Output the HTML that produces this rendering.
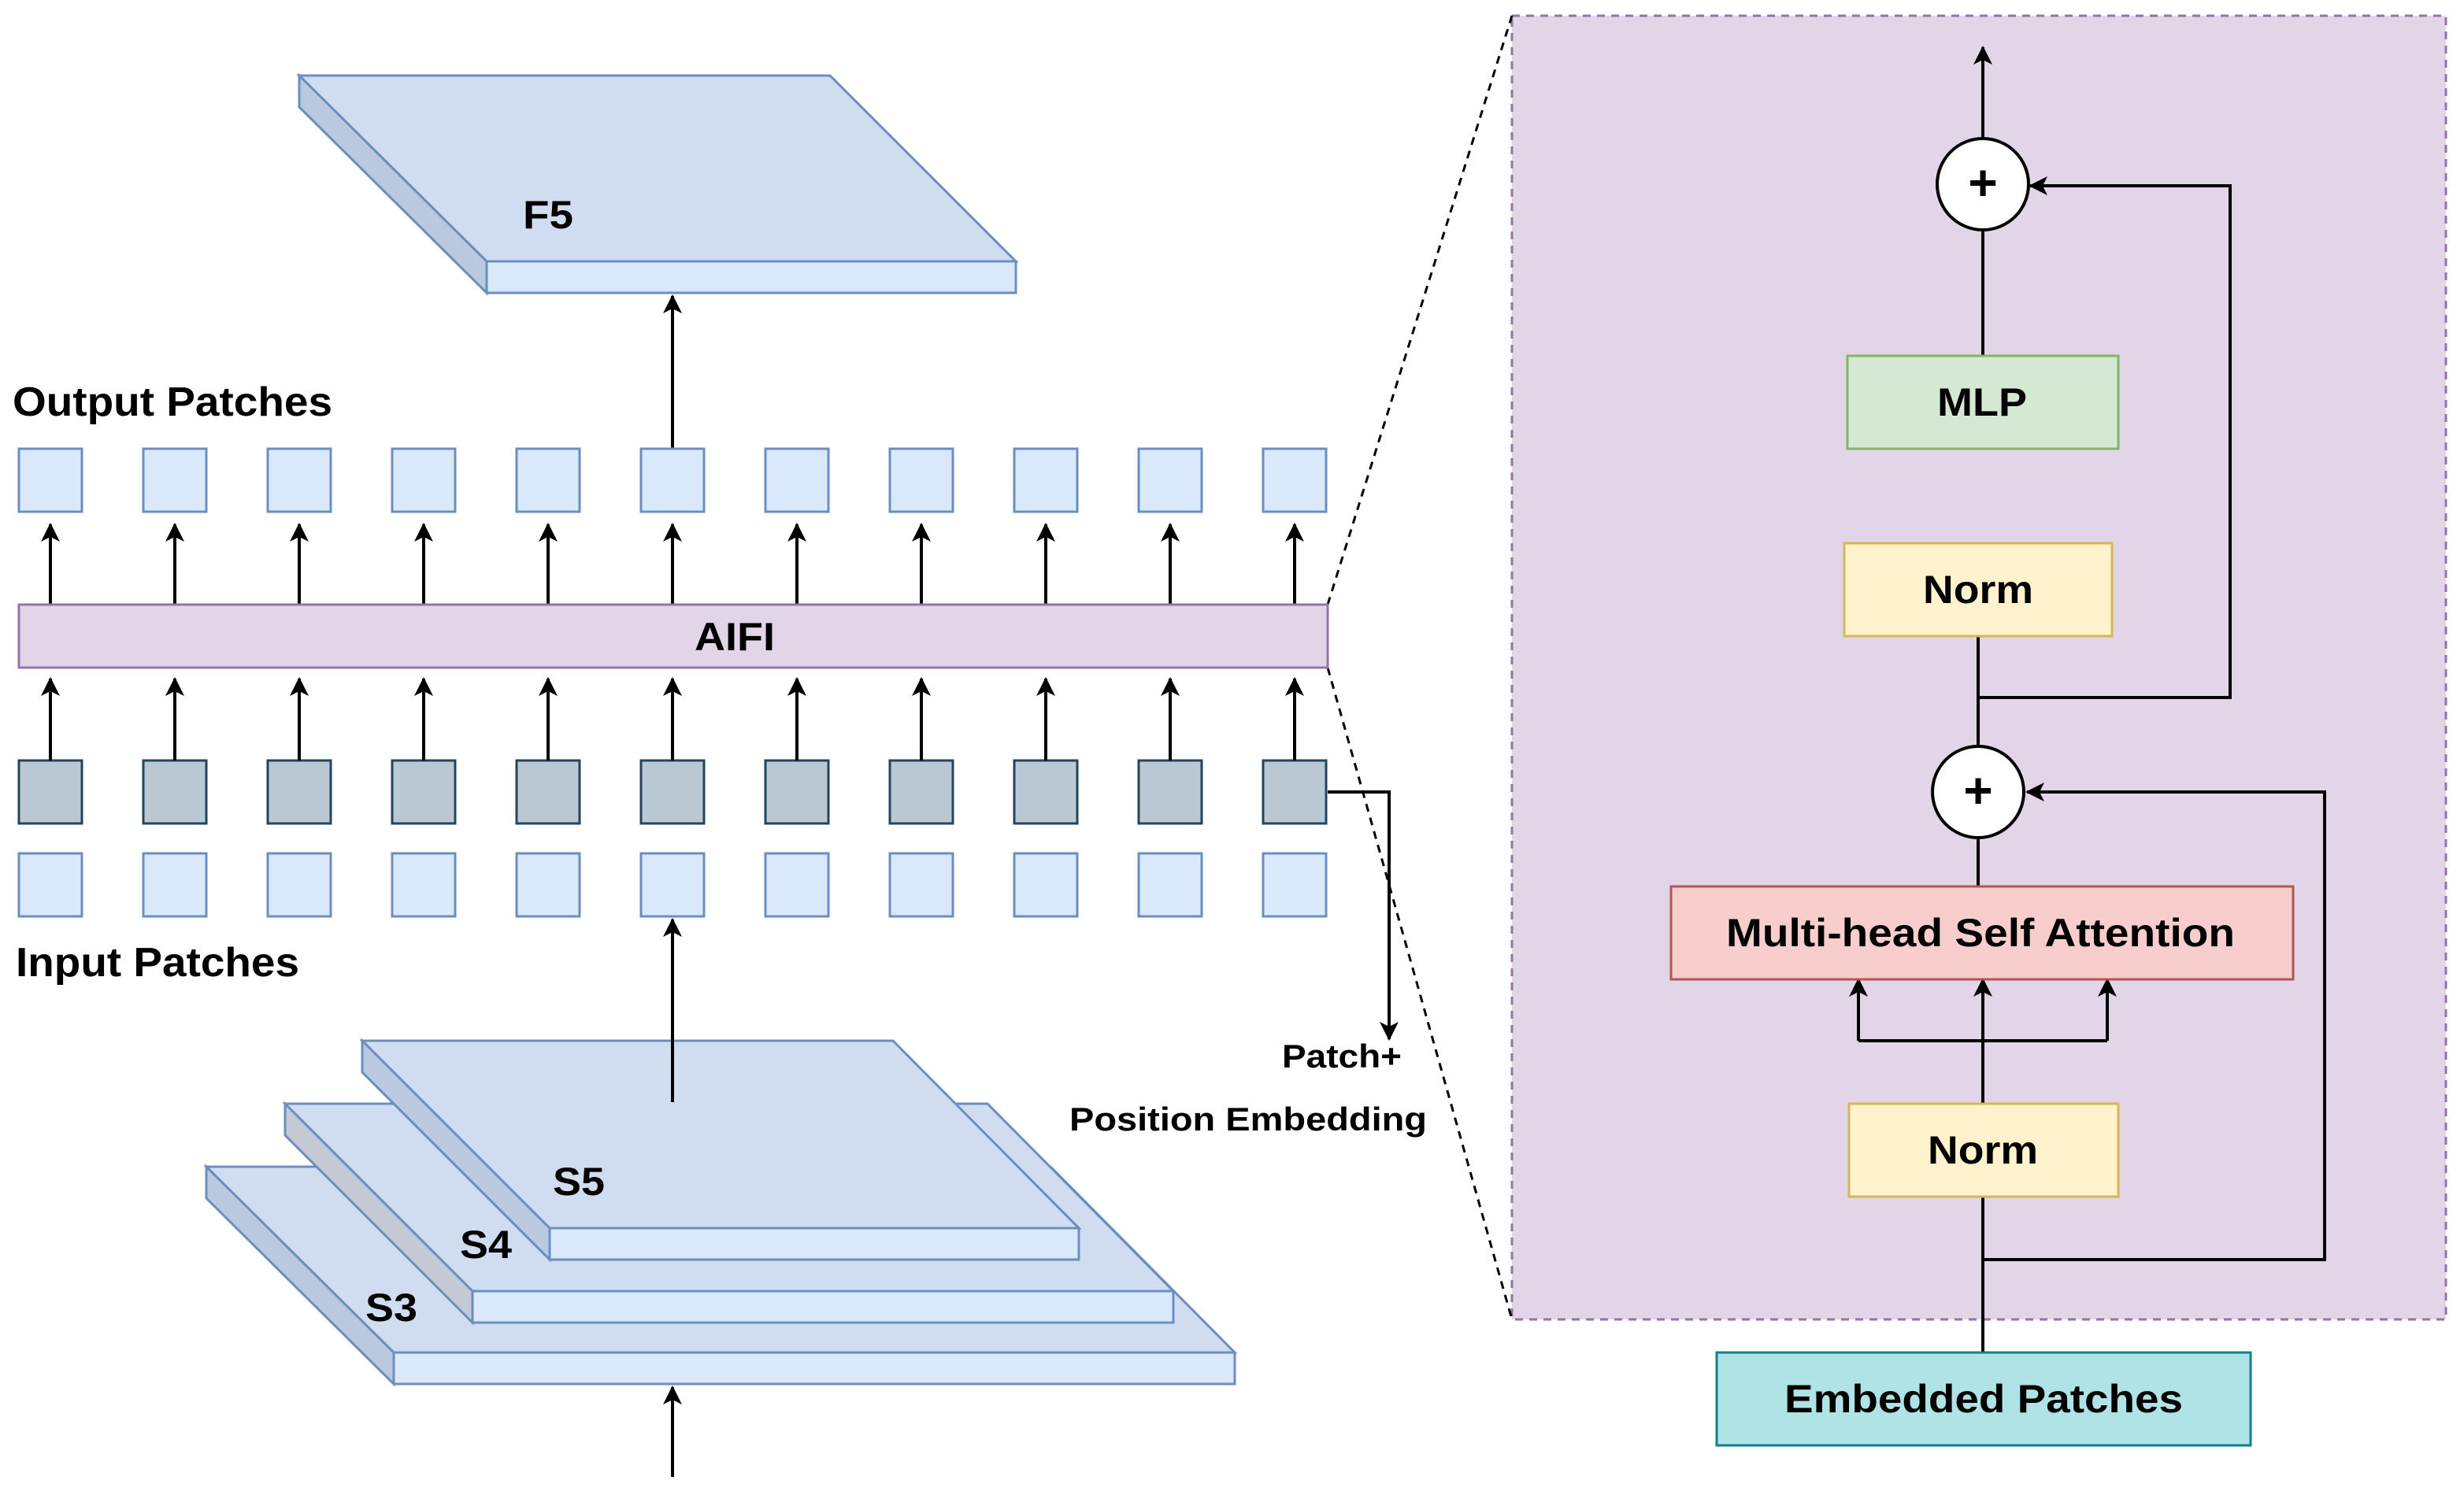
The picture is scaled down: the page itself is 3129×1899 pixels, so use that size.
<!DOCTYPE html>
<html><head><meta charset="utf-8"><style>
html,body{margin:0;padding:0;background:#fff;}
svg{display:block;}
text{font-family:"Liberation Sans",Arial,sans-serif;font-weight:bold;fill:#000;}
</style></head><body>
<svg width="3129" height="1899" viewBox="0 0 1564.5 949.5" xmlns="http://www.w3.org/2000/svg">
<defs>
<marker id="ah" markerWidth="14" markerHeight="14" refX="11" refY="6" orient="auto" markerUnits="userSpaceOnUse">
<path d="M0,0 L12,6 L0,12 L3,6 Z" fill="#000"/>
</marker>
</defs>
<rect width="1564.5" height="949.5" fill="#fff"/>

<rect x="960" y="10" width="593" height="828" fill="#e1d5e7" stroke="#9673a6" stroke-width="1.5" stroke-dasharray="5,4"/>
<line x1="843" y1="384" x2="960" y2="10" stroke="#000" stroke-width="1.5" stroke-dasharray="5,4"/>
<line x1="843" y1="424" x2="960" y2="838" stroke="#000" stroke-width="1.5" stroke-dasharray="5,4"/>

<g stroke="#6c8ebf" stroke-width="1.5">
<polygon points="190,48 527,48 645,166 309,166" fill="#d0ddf0"/>
<polygon points="190,48 309,166 309,186 190,68" fill="#b9c9e0"/>
<rect x="309" y="166" width="336" height="20" fill="#dae8fc"/>
</g>
<text x="332" y="145" font-size="25" textLength="32" lengthAdjust="spacingAndGlyphs">F5</text>
<line x1="427" y1="285" x2="427" y2="188" stroke="#000" stroke-width="2" marker-end="url(#ah)"/>

<text x="8" y="264" font-size="26" textLength="203" lengthAdjust="spacingAndGlyphs">Output Patches</text>
<text x="10" y="620" font-size="26" textLength="180" lengthAdjust="spacingAndGlyphs">Input Patches</text>

<g stroke-width="1.5">
<g fill="#dae8fc" stroke="#6c8ebf">
<rect x="12" y="285" width="40" height="40"/><rect x="91" y="285" width="40" height="40"/><rect x="170" y="285" width="40" height="40"/><rect x="249" y="285" width="40" height="40"/><rect x="328" y="285" width="40" height="40"/><rect x="407" y="285" width="40" height="40"/><rect x="486" y="285" width="40" height="40"/><rect x="565" y="285" width="40" height="40"/><rect x="644" y="285" width="40" height="40"/><rect x="723" y="285" width="40" height="40"/><rect x="802" y="285" width="40" height="40"/>
<rect x="12" y="542" width="40" height="40"/><rect x="91" y="542" width="40" height="40"/><rect x="170" y="542" width="40" height="40"/><rect x="249" y="542" width="40" height="40"/><rect x="328" y="542" width="40" height="40"/><rect x="407" y="542" width="40" height="40"/><rect x="486" y="542" width="40" height="40"/><rect x="565" y="542" width="40" height="40"/><rect x="644" y="542" width="40" height="40"/><rect x="723" y="542" width="40" height="40"/><rect x="802" y="542" width="40" height="40"/>
</g>
<g fill="#bac8d3" stroke="#23445d">
<rect x="12" y="483" width="40" height="40"/><rect x="91" y="483" width="40" height="40"/><rect x="170" y="483" width="40" height="40"/><rect x="249" y="483" width="40" height="40"/><rect x="328" y="483" width="40" height="40"/><rect x="407" y="483" width="40" height="40"/><rect x="486" y="483" width="40" height="40"/><rect x="565" y="483" width="40" height="40"/><rect x="644" y="483" width="40" height="40"/><rect x="723" y="483" width="40" height="40"/><rect x="802" y="483" width="40" height="40"/>
</g>
</g>
<g stroke="#000" stroke-width="2" marker-end="url(#ah)">
<line x1="32" y1="384" x2="32" y2="333"/><line x1="111" y1="384" x2="111" y2="333"/><line x1="190" y1="384" x2="190" y2="333"/><line x1="269" y1="384" x2="269" y2="333"/><line x1="348" y1="384" x2="348" y2="333"/><line x1="427" y1="384" x2="427" y2="333"/><line x1="506" y1="384" x2="506" y2="333"/><line x1="585" y1="384" x2="585" y2="333"/><line x1="664" y1="384" x2="664" y2="333"/><line x1="743" y1="384" x2="743" y2="333"/><line x1="822" y1="384" x2="822" y2="333"/>
<line x1="32" y1="483" x2="32" y2="431"/><line x1="111" y1="483" x2="111" y2="431"/><line x1="190" y1="483" x2="190" y2="431"/><line x1="269" y1="483" x2="269" y2="431"/><line x1="348" y1="483" x2="348" y2="431"/><line x1="427" y1="483" x2="427" y2="431"/><line x1="506" y1="483" x2="506" y2="431"/><line x1="585" y1="483" x2="585" y2="431"/><line x1="664" y1="483" x2="664" y2="431"/><line x1="743" y1="483" x2="743" y2="431"/><line x1="822" y1="483" x2="822" y2="431"/>
</g>

<rect x="12" y="384" width="831" height="40" fill="#e1d5e7" stroke="#9673a6" stroke-width="1.5"/>
<text x="441" y="413" font-size="25" textLength="51" lengthAdjust="spacingAndGlyphs">AIFI</text>

<polyline points="843,503 882,503 882,660" fill="none" stroke="#000" stroke-width="2" marker-end="url(#ah)"/>
<text x="814" y="678" font-size="21" textLength="76" lengthAdjust="spacingAndGlyphs">Patch+</text>
<text x="679" y="718" font-size="21" textLength="227" lengthAdjust="spacingAndGlyphs">Position Embedding</text>

<g stroke="#6c8ebf" stroke-width="1.5">
<polygon points="131,741 667,741 784,859 250,859" fill="#d0ddf0"/>
<polygon points="131,741 250,859 250,879 131,761" fill="#b9c9e0"/>
<rect x="250" y="859" width="534" height="20" fill="#dae8fc"/>
<polygon points="181,701 627,701 745,820 300,820" fill="#d0ddf0"/>
<polygon points="181,701 300,820 300,840 181,721" fill="#c4cad4"/>
<rect x="300" y="820" width="445" height="20" fill="#dae8fc"/>
<polygon points="230,661 567,661 685,780 349,780" fill="#d0ddf0"/>
<polygon points="230,661 349,780 349,800 230,681" fill="#b9c9e0"/>
<rect x="349" y="780" width="336" height="20" fill="#dae8fc"/>
</g>
<text x="351" y="759" font-size="25" textLength="33" lengthAdjust="spacingAndGlyphs">S5</text>
<text x="292" y="799" font-size="25" textLength="33" lengthAdjust="spacingAndGlyphs">S4</text>
<text x="232" y="839" font-size="25" textLength="33" lengthAdjust="spacingAndGlyphs">S3</text>
<line x1="427" y1="700" x2="427" y2="584" stroke="#000" stroke-width="2" marker-end="url(#ah)"/>
<line x1="427" y1="938" x2="427" y2="881" stroke="#000" stroke-width="2" marker-end="url(#ah)"/>

<g stroke="#000" stroke-width="2" fill="none">
<line x1="1259" y1="859" x2="1259" y2="760"/>
<polyline points="1259,800 1476,800 1476,503 1287,503" marker-end="url(#ah)"/>
<line x1="1259" y1="701" x2="1259" y2="622" marker-end="url(#ah)"/>
<polyline points="1180,661 1338,661"/>
<line x1="1180" y1="661" x2="1180" y2="622" marker-end="url(#ah)"/>
<line x1="1338" y1="661" x2="1338" y2="622" marker-end="url(#ah)"/>
<line x1="1256" y1="563" x2="1256" y2="532"/>
<line x1="1256" y1="474" x2="1256" y2="404"/>
<polyline points="1256,443 1416,443 1416,118 1289,118" marker-end="url(#ah)"/>
<line x1="1259" y1="226" x2="1259" y2="146"/>
<line x1="1259" y1="88" x2="1259" y2="30" marker-end="url(#ah)"/>
</g>
<rect x="1090" y="859" width="339" height="59" fill="#b0e3e6" stroke="#0e8088" stroke-width="1.5"/>
<text x="1133" y="897" font-size="25" textLength="253" lengthAdjust="spacingAndGlyphs">Embedded Patches</text>
<rect x="1174" y="701" width="171" height="59" fill="#fff2cc" stroke="#d6b656" stroke-width="1.5"/>
<text x="1224" y="739" font-size="25" textLength="70" lengthAdjust="spacingAndGlyphs">Norm</text>
<rect x="1061" y="563" width="395" height="59" fill="#f8cecc" stroke="#b85450" stroke-width="1.5"/>
<text x="1096" y="601" font-size="25" textLength="323" lengthAdjust="spacingAndGlyphs">Multi-head Self Attention</text>
<circle cx="1256" cy="503" r="29" fill="#fff" stroke="#000" stroke-width="2"/>
<text x="1256" y="513" font-size="32" text-anchor="middle" font-weight="normal">+</text>
<rect x="1171" y="345" width="170" height="59" fill="#fff2cc" stroke="#d6b656" stroke-width="1.5"/>
<text x="1221" y="383" font-size="25" textLength="70" lengthAdjust="spacingAndGlyphs">Norm</text>
<rect x="1173" y="226" width="172" height="59" fill="#d5e8d4" stroke="#82b366" stroke-width="1.5"/>
<text x="1230" y="264" font-size="25" textLength="57" lengthAdjust="spacingAndGlyphs">MLP</text>
<circle cx="1259" cy="117" r="29" fill="#fff" stroke="#000" stroke-width="2"/>
<text x="1259" y="127" font-size="32" text-anchor="middle" font-weight="normal">+</text>
</svg>
</body></html>
